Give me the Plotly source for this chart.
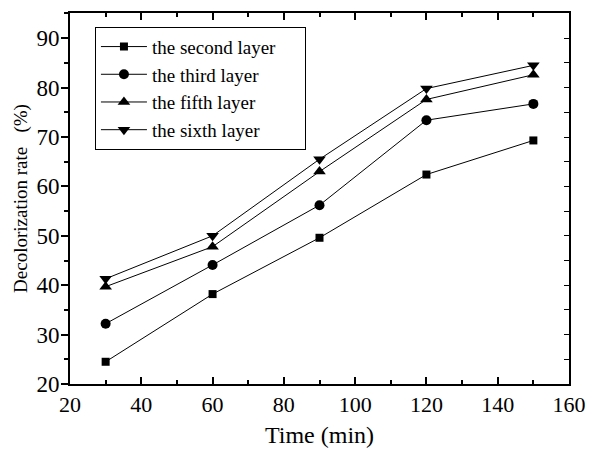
import plotly.graph_objects as go

time_min = [30, 60, 90, 120, 150]
second_layer = [24.5, 38.2, 49.6, 62.4, 69.3]
third_layer = [32.2, 44.1, 56.2, 73.4, 76.7]
fifth_layer = [39.7, 47.8, 63.0, 77.6, 82.6]
sixth_layer = [41.3, 50.0, 65.5, 79.8, 84.5]

series = [
    ("the second layer\u00a0\u00a0\u00a0\u00a0\u00a0", second_layer, "square", 8),
    ("the third layer", third_layer, "circle", 10),
    ("the fifth layer", fifth_layer, "triangle-up", 11),
    ("the sixth layer", sixth_layer, "triangle-down", 11),
]

FONT = "Liberation Serif"

fig = go.Figure()
for name, vals, sym, sz in series:
    fig.add_trace(go.Scatter(
        x=time_min, y=vals, name=name, mode="lines+markers",
        line=dict(color="black", width=1),
        marker=dict(symbol=sym, size=sz, color="black"),
    ))

fig.add_trace(go.Scatter(x=[time_min[0]], y=[second_layer[0]], yaxis="y2",
                         mode="markers", marker=dict(opacity=0),
                         showlegend=False, hoverinfo="skip"))

fig.update_layout(
    width=597, height=455,
    margin=dict(l=70, r=16, t=11, b=67),
    paper_bgcolor="white", plot_bgcolor="white",
    font=dict(family=FONT, color="black", size=20),
    showlegend=True,
    legend=dict(
        x=0.05, y=0.963, xanchor="left", yanchor="top",
        bordercolor="black", borderwidth=1, bgcolor="white",
        font=dict(family=FONT, size=19, color="black"),
        tracegroupgap=0, itemwidth=46,
    ),
    xaxis=dict(
        range=[20, 160], dtick=20, tick0=20,
        showline=True, linecolor="black", linewidth=2,
        mirror="ticks", ticks="inside", ticklen=7, tickwidth=1.5, tickcolor="black",
        minor=dict(dtick=10, tick0=20, ticks="inside", ticklen=4, tickwidth=1.5, tickcolor="black"),
        showgrid=False, zeroline=False,
        tickfont=dict(family=FONT, size=22),
        ticklabeloverflow="allow",
        title=dict(text="Time (min)", font=dict(family=FONT, size=24), standoff=10),
    ),
    yaxis=dict(
        range=[20, 95.1], dtick=10, tick0=20,
        showline=True, linecolor="black", linewidth=2,
        ticks="outside", ticklen=7, tickwidth=1.5, tickcolor="black",
        minor=dict(dtick=5, tick0=20, ticks="outside", ticklen=4, tickwidth=1.5, tickcolor="black"),
        showgrid=False, zeroline=False,
        tickfont=dict(family=FONT, size=23),
        ticklabelstandoff=-3,
        title=dict(text="Decolorization rate   (%)", font=dict(family=FONT, size=19), standoff=4),
    ),
    yaxis2=dict(
        range=[20, 95.1], dtick=10, tick0=20, overlaying="y", side="right",
        showline=True, linecolor="black", linewidth=1.5,
        ticks="inside", ticklen=5, tickwidth=1, tickcolor="black",
        minor=dict(dtick=5, tick0=20, ticks="inside", ticklen=5, tickwidth=1, tickcolor="black"),
        showticklabels=False, showgrid=False, zeroline=False,
    ),
)

fig.write_html("out.html")
